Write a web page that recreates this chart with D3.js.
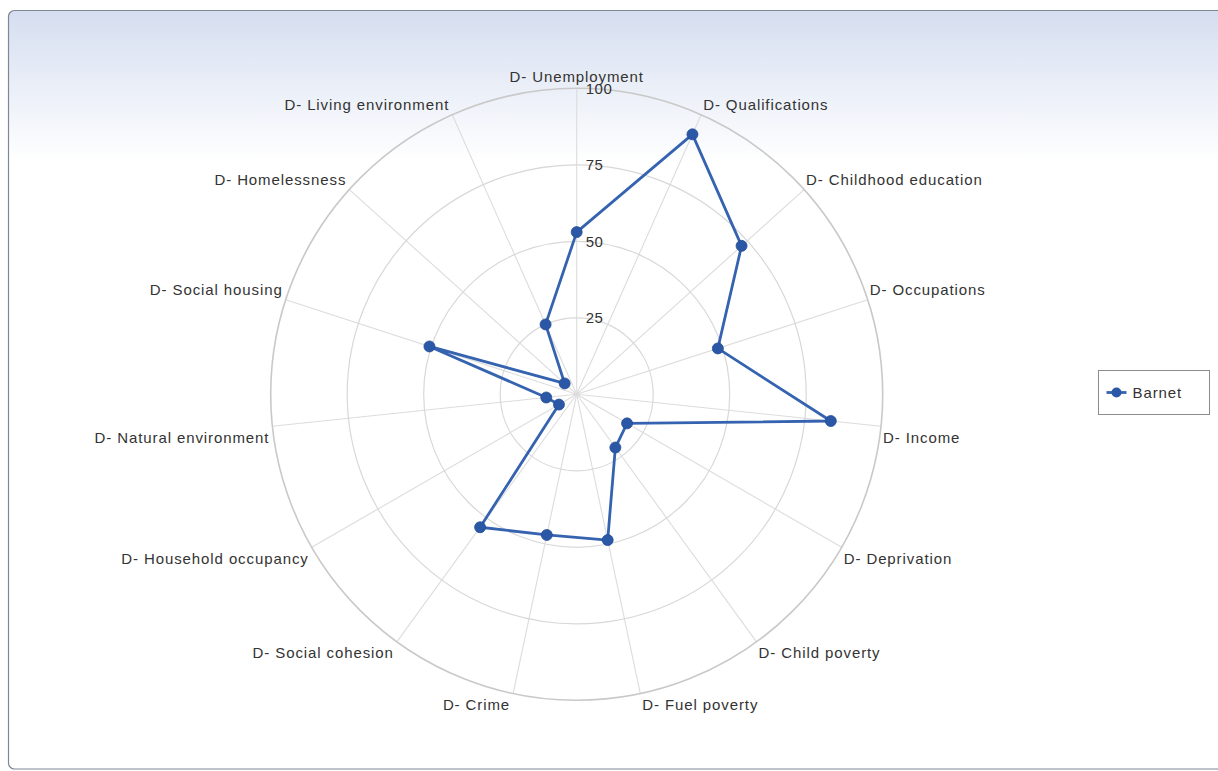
<!DOCTYPE html>
<html>
<head>
<meta charset="utf-8">
<script src="https://cdn.jsdelivr.net/npm/d3@7"></script>
<style>
  html, body { margin: 0; padding: 0; background: #fff; }
  svg { display: block; }
  text { font-family: "Liberation Sans", Arial, sans-serif; fill: #333; }
</style>
</head>
<body>
<svg id="chart" width="1218" height="771"></svg>
<script>
// Radar axes, clockwise from the top
const categories = [
  "D- Unemployment", "D- Qualifications", "D- Childhood education", "D- Occupations",
  "D- Income", "D- Deprivation", "D- Child poverty", "D- Fuel poverty", "D- Crime",
  "D- Social cohesion", "D- Household occupancy", "D- Natural environment",
  "D- Social housing", "D- Homelessness", "D- Living environment"
];
const seriesName = "Barnet";
const barnetValues = [53, 93, 72.5, 48.5, 83.5, 19, 21.5, 48.7, 47, 53.7, 6.7, 10, 50.6, 5.3, 25];
const ringTicks = [25, 50, 75, 100];

const svg = d3.select("#chart");
const cx = 576.7, cy = 394.3, R = 306;

// Panel background with a soft blue top fade
const defs = svg.append("defs");
const grad = defs.append("linearGradient").attr("id", "panelFade")
  .attr("x1", 0).attr("y1", 0).attr("x2", 0).attr("y2", 1);
grad.append("stop").attr("offset", "0%").attr("stop-color", "#d5def0");
grad.append("stop").attr("offset", "20%").attr("stop-color", "#ffffff");
grad.append("stop").attr("offset", "100%").attr("stop-color", "#ffffff");

svg.append("rect")
  .attr("x", 8.5).attr("y", 10.5).attr("width", 1220).attr("height", 758.5)
  .attr("rx", 6).attr("ry", 6)
  .attr("fill", "url(#panelFade)")
  .attr("stroke", "#7d8796").attr("stroke-width", 1.2);

const r = d3.scaleLinear().domain([0, 100]).range([0, R]);
const angle = d3.scaleLinear().domain([0, categories.length]).range([0, 2 * Math.PI]);

const g = svg.append("g").attr("transform", `translate(${cx},${cy})`);

// Spokes
g.selectAll("line.spoke").data(categories).join("line")
  .attr("class", "spoke")
  .attr("x1", 0).attr("y1", 0)
  .attr("x2", (d, i) => r(100) * Math.sin(angle(i)))
  .attr("y2", (d, i) => -r(100) * Math.cos(angle(i)))
  .attr("stroke", "#dcdcdc").attr("stroke-width", 1.1);

// Rings
g.selectAll("circle.ring").data(ringTicks).join("circle")
  .attr("class", "ring")
  .attr("r", d => r(d))
  .attr("fill", "none")
  .attr("stroke", d => d === 100 ? "#c9c9c9" : "#d8d8d8")
  .attr("stroke-width", d => d === 100 ? 1.6 : 1.2);

// Ring values along the top spoke
g.selectAll("text.tick").data(ringTicks).join("text")
  .attr("class", "tick")
  .attr("x", 9).attr("y", d => -r(d))
  .attr("dominant-baseline", "central")
  .attr("font-size", 15).attr("letter-spacing", "0.5px")
  .text(d => d);

// Category labels just outside the outer ring
g.selectAll("text.cat").data(categories).join("text")
  .attr("class", "cat")
  .attr("font-size", 15).attr("letter-spacing", "0.9px")
  .attr("dominant-baseline", "central")
  .each(function(d, i) {
    const a = angle(i);
    const px = r(100) * Math.sin(a), py = -r(100) * Math.cos(a);
    const s = Math.sin(a);
    const el = d3.select(this);
    if (Math.abs(s) < 1e-6) {
      el.attr("text-anchor", "middle").attr("x", px).attr("y", py - 12);
    } else {
      el.attr("text-anchor", s > 0 ? "start" : "end")
        .attr("x", s > 0 ? px + 2 : px - 3)
        .attr("y", Math.cos(a) > 0 ? py - 10 : py + 11);
    }
  })
  .text(d => d);

// Series polygon
const radial = d3.lineRadial()
  .angle((d, i) => angle(i))
  .radius(d => r(d))
  .curve(d3.curveLinearClosed);

g.append("path")
  .datum(barnetValues)
  .attr("d", radial)
  .attr("fill", "none")
  .attr("stroke", "#3563b0")
  .attr("stroke-width", 2.8)
  .attr("stroke-linejoin", "round");

g.selectAll("circle.pt").data(barnetValues).join("circle")
  .attr("class", "pt")
  .attr("cx", (d, i) => r(d) * Math.sin(angle(i)))
  .attr("cy", (d, i) => -r(d) * Math.cos(angle(i)))
  .attr("r", 5.5)
  .attr("fill", "#2a58a6")
  .attr("stroke", "#244d94").attr("stroke-width", 0.8);

// Legend
const lg = svg.append("g").attr("transform", "translate(1098.5,370.5)");
lg.append("rect").attr("width", 111).attr("height", 44)
  .attr("fill", "#fff").attr("stroke", "#8c8c8c").attr("stroke-width", 1);
lg.append("line").attr("x1", 8).attr("x2", 28).attr("y1", 22).attr("y2", 22)
  .attr("stroke", "#3563b0").attr("stroke-width", 2.8);
lg.append("circle").attr("cx", 18).attr("cy", 22).attr("r", 5)
  .attr("fill", "#2a58a6");
lg.append("text").attr("x", 34).attr("y", 22)
  .attr("dominant-baseline", "central")
  .attr("font-size", 15).attr("letter-spacing", "0.9px")
  .text(seriesName);
</script>
</body>
</html>
